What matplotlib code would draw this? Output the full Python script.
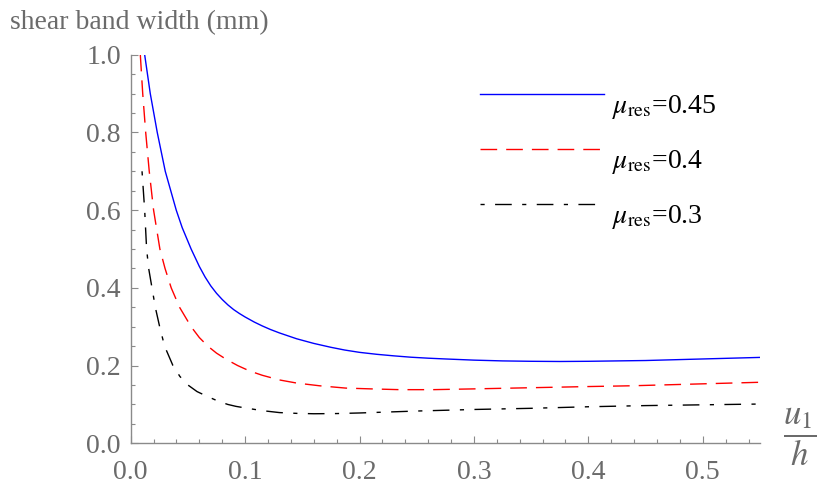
import numpy as np
import matplotlib
matplotlib.use("Agg")
import matplotlib.pyplot as plt
from matplotlib.ticker import MultipleLocator, FormatStrFormatter

# values
x_045 = [0.0122, 0.0171, 0.0232, 0.0302, 0.0398, 0.045, 0.0528, 0.060, 0.065, 0.070,
         0.075, 0.080, 0.085, 0.090, 0.095, 0.100, 0.108, 0.115, 0.122, 0.130,
         0.145, 0.160, 0.175, 0.187, 0.200, 0.215, 0.230, 0.245, 0.260, 0.275,
         0.300, 0.325, 0.350, 0.375, 0.400, 0.425, 0.450, 0.475, 0.500, 0.525, 0.550]
y_045 = [1.0, 0.9, 0.8, 0.7, 0.6, 0.555, 0.5, 0.455, 0.428, 0.405,
         0.386, 0.37, 0.356, 0.344, 0.334, 0.325, 0.312, 0.302, 0.293, 0.284,
         0.269, 0.257, 0.247, 0.240, 0.234, 0.229, 0.225, 0.2215, 0.219, 0.217,
         0.214, 0.212, 0.211, 0.2105, 0.211, 0.212, 0.213, 0.215, 0.217, 0.219, 0.221]

x_040 = [0.0084, 0.0105, 0.0131, 0.0162, 0.020, 0.0255, 0.030, 0.0354, 0.0427, 0.0528,
         0.060, 0.0674, 0.075, 0.0835, 0.0935, 0.104, 0.115, 0.130, 0.145, 0.165,
         0.188, 0.210, 0.235, 0.264, 0.300, 0.350, 0.400, 0.438, 0.500, 0.550]
y_040 = [1.0, 0.9, 0.8, 0.7, 0.6, 0.5, 0.45, 0.40, 0.35, 0.30,
         0.272, 0.25, 0.232, 0.216, 0.20, 0.186, 0.175, 0.163, 0.155, 0.148,
         0.142, 0.140, 0.138, 0.138, 0.140, 0.143, 0.146, 0.148, 0.153, 0.157]

x_030 = [0.0099, 0.0122, 0.0139, 0.0157, 0.0186, 0.0215, 0.0253, 0.0296, 0.0369, 0.043,
         0.050, 0.058, 0.0674, 0.076, 0.0848, 0.092, 0.100, 0.115, 0.130, 0.145,
         0.160, 0.180, 0.200, 0.250, 0.300, 0.350, 0.400, 0.450, 0.500, 0.550]
y_030 = [0.70, 0.60, 0.50, 0.45, 0.40, 0.35, 0.30, 0.25, 0.20, 0.172,
         0.15, 0.133, 0.12, 0.109, 0.10, 0.095, 0.091, 0.084, 0.079, 0.077,
         0.076, 0.0765, 0.078, 0.083, 0.087, 0.090, 0.094, 0.097, 0.099, 0.101]

labels = [r"$\mu_{\mathrm{res}}$=0.45", r"$\mu_{\mathrm{res}}$=0.4", r"$\mu_{\mathrm{res}}$=0.3"]

plt.rcParams["font.family"] = ["Liberation Serif", "DejaVu Serif"]
plt.rcParams["mathtext.fontset"] = "stix"
grey = "#6b6b6b"
fs = 20

fig = plt.figure(figsize=(8.2, 4.86), dpi=100)
ax = fig.add_axes([0.1594, 0.0879, 0.7674, 0.7995])

ax.plot(x_045, y_045, color="blue", lw=1.0, label=labels[0])
ax.plot(x_040, y_040, color="red", lw=1.0, dashes=(12, 6.5), label=labels[1])
ax.plot(x_030, y_030, color="black", lw=1.0, dashes=(3, 7.5, 12, 7.5), label=labels[2])

ax.set_xlim(0, 0.55)
ax.set_ylim(0, 1.0)

for side in ["top", "right"]:
    ax.spines[side].set_visible(False)
for side in ["left", "bottom"]:
    ax.spines[side].set_color("#8a8a8a")
    ax.spines[side].set_linewidth(1.0)

ax.xaxis.set_major_locator(MultipleLocator(0.1))
ax.xaxis.set_minor_locator(MultipleLocator(0.02))
ax.yaxis.set_major_locator(MultipleLocator(0.2))
ax.yaxis.set_minor_locator(MultipleLocator(0.05))
ax.xaxis.set_major_formatter(FormatStrFormatter("%.1f"))
ax.yaxis.set_major_formatter(FormatStrFormatter("%.1f"))

ax.tick_params(which="both", direction="in", color="#8a8a8a", width=0.8,
               labelcolor=grey, labelsize=fs)
ax.tick_params(which="major", length=5)
ax.tick_params(which="minor", length=3)
ax.tick_params(axis="x", which="major", pad=12)
ax.tick_params(axis="y", which="major", pad=7)

# taller handle box lifts the sample line above the text baseline, as in the reference
leg = ax.legend(loc="upper left", bbox_to_anchor=(0.555, 0.948), frameon=False,
                fontsize=fs, handlelength=4.46, handletextpad=0.29,
                handleheight=2.9, labelspacing=-0.15, borderpad=0, borderaxespad=0)

fig.text(10 / 820, 1 - 29 / 486, "shear band width (mm)", color=grey,
         fontsize=fs, ha="left", va="baseline")
fig.text(0.975, 0.1008, r"$\dfrac{u_1}{h}$", color=grey, fontsize=25,
         ha="center", va="center")

fig.savefig("out.png", dpi=100)
